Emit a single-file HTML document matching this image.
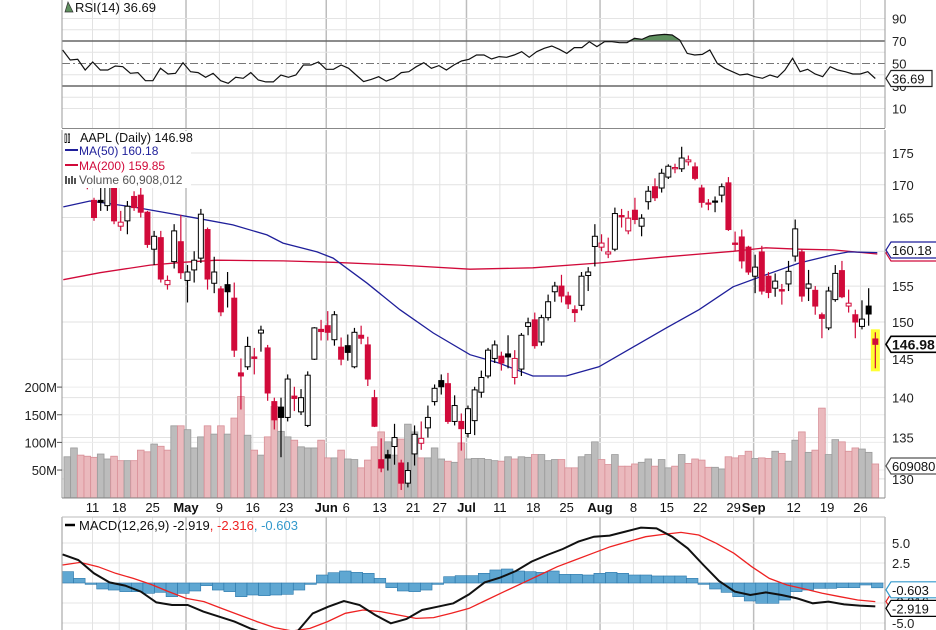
<!DOCTYPE html>
<html><head><meta charset="utf-8">
<style>
html,body{margin:0;padding:0;background:#fff;}
svg{display:block;font-family:"Liberation Sans",Arial,sans-serif;}
</style></head>
<body>
<svg id="chart" width="936" height="630" viewBox="0 0 936 630" xmlns="http://www.w3.org/2000/svg"></svg>
<script>
// ---------- DATA ----------
const opens=[172.5,173,172,171,167.6,167.6,166.8,169.7,163.7,164.5,168.2,168.4,165.8,160.3,162,155.2,158.5,161.4,155.8,157.3,159,163.2,155.4,154.6,155.2,153.3,143.2,144,145.3,148.5,146.5,139.5,138.8,137.5,140.2,138.2,136.5,145,149,149.5,147.6,146.6,146.8,144,148.2,146.9,140,132.3,132.9,133.9,131.9,129.5,133,134.3,136.2,139.5,142.2,141.8,137,137,135.5,137.1,140.7,142.8,145.1,145.4,145.7,142.6,143.7,149.4,150.3,147.3,150.6,154.2,155,153.6,151.7,152.3,156.5,160.7,160.6,159.6,160.3,165.3,163,166.1,163.7,167.4,169.7,169.5,171.2,172.5,172.5,173.6,172.8,169.5,167.2,167.5,168.4,170.3,161.2,162.1,160.6,156.4,159.9,156.4,154.7,154.5,155.3,159.3,159.9,154.7,154.4,151,149.2,153.1,157.2,152.2,151,149.4,152.2,147.7];
const highs=[173,173.5,172.5,171.5,168,169.5,170,170.5,166,167.5,169,170.5,166,163,163,156.5,164,165.4,158,160,166.3,163.5,159.2,155,157,155.5,145.1,148,146.5,149.5,146.9,140,140,143,141.4,141.1,143.4,149.3,150.3,151.5,151.5,147.9,148.3,149.2,149.5,148,141,134.9,133.5,136.7,132.3,132,136.5,137,139,141.7,143,143.2,140.3,138,139,141.4,143.5,146.5,147.5,146,148.2,146.2,148.5,150.6,151.3,151,153.8,155.6,156.6,154.2,152.3,157,157.7,164,162.5,162,166.5,166.3,166,168,165.5,169.8,171,172.5,173.2,173.3,176,174.6,173.5,170,167.8,168.2,170.2,171.2,162.9,163.2,160.8,159.5,160.8,157,156.8,155.3,158.6,164.7,160.3,157.3,155,151.3,154.9,158,158.6,154.5,151.7,153,154.7,148.6];
const lows=[170,170.5,169.8,169.3,164.5,166,166,164,163,162.5,166,165,160.5,158,155.5,154.5,157.5,156,152.7,155.5,158.3,154.5,154,150.8,152,145.3,138.5,143.6,143,146,139.6,136,132.6,137,138.3,137.8,136.3,144.9,147.5,147.5,146.8,144.2,144.8,143.8,147,141.5,136.3,130.8,131,131.7,128.7,129,131.6,133.5,135,139,140.4,136.7,136.5,133.4,135,135.3,140,142.5,144.5,143.5,143.8,141.7,142.8,148.2,146.4,146.8,150.2,152.8,152.7,151.8,150,151.6,154.3,157.8,160,159,160,163.5,162.5,164,162.2,166.2,167.5,168.8,170.9,171.8,172,173,170.7,166.5,166.1,165.8,167.3,163,160,157.5,156.6,154,153.8,153.3,153.5,152.4,154.3,158.5,152.8,152.9,151,147.8,148.9,152.8,153.3,151.3,147.8,149,149.5,143.8];
const closes=[171,171.5,171,170,165,167.3,169.6,164.5,164.3,166.7,166.5,165.8,161,162.2,156,155.8,163,156.9,157,158.7,165.5,156,157,151.4,154.2,146.2,142.8,146.7,145.1,148.9,140.6,137.2,137.5,142.4,139.9,140,142.9,149.2,148.7,148.6,151,145,145.9,148.6,147.8,142.4,136.4,131.3,132.5,135,129.5,131,135.4,134.9,137.5,141.2,141.4,137,139,136.1,138.6,141,142.6,146.2,146.9,144.5,145.3,145.1,148.2,149.9,146.8,150.6,152.8,155,153.6,152.5,151.3,156.4,157,162.2,161.2,159.9,165.6,165.1,164.9,164.7,164.9,169,168,171.8,172.9,172.7,174.2,173.9,171,167.3,167.1,167.4,169.7,163.2,161,158.6,157,157.7,154.3,154.1,155.7,154.3,157.1,163.3,153.6,155.3,152.2,150.5,154.3,156.8,153.5,152.6,150,150.4,151.1,146.98];
const volumesM=[74,90,77,75,73,79,70,75,67,67,67,86,83,97,93,86,130,130,123,90,110,130,115,130,115,144,183,113,86,77,110,165,120,110,104,92,90,90,104,72,72,86,70,69,54,68,92,119,101,77,106,133,119,72,72,90,70,66,64,99,70,71,71,69,67,66,74,70,74,73,78,78,67,69,69,54,54,74,78,101,69,60,78,57,57,61,64,70,57,69,54,57,78,62,70,68,55,55,52,74,72,76,84,71,72,71,84,80,66,104,119,82,86,162,78,105,101,84,90,88,82,61];
const ma50Idx=[-0.6,3.4,9.8,14.9,19.9,24.8,29.9,32.3,37.4,39.8,44.9,49.8,54.8,60.3,64.6,69.7,74.7,79.6,84.7,89.7,94.6,99.7,104.6,109.6,114.7,117,121.3];
const ma50Val=[166.6,167.5,166.6,165.7,164.8,163.9,162.4,161.2,159.9,159,155.4,151.7,148.5,145.6,144.5,142.8,142.8,144,146.6,149.2,151.7,154.9,156.6,158.3,159.5,159.9,159.8];
const ma200Idx=[-0.6,4.9,12.4,17.3,22.4,32.3,39.8,49.8,60.3,69.7,79.6,89.7,99.7,104.6,109.6,114.7,121.3];
const ma200Val=[155.9,156.9,158,158.4,158.7,158.6,158.4,158,157.4,157.6,158.3,159.2,160,160.5,160.3,160.2,159.6];
const rsiVals=[62,53.1,53.7,44.2,51.3,44.2,44.2,47.8,47.2,41.3,41.9,34.7,34.7,45.7,40.7,41.3,50.7,42.7,41.9,37.7,41.3,34.7,32.4,37.7,36.8,41.9,35.3,33.6,33.6,39.8,37.7,39.8,48.7,48.7,51.3,44.8,44.8,48.7,45.7,39.8,33.9,35.9,38.3,34.4,36.8,41.9,42.7,47.2,50.7,45.7,48.1,44.2,48.7,52.2,53.7,57.6,57.6,54,56.1,55.5,57.6,60.5,55.5,60.5,63.5,65.6,62.6,59,64.1,64.1,69.4,65,69.4,69.4,68.5,68.5,72.4,71.5,74.4,75.3,75.9,75.3,70.9,59,57.6,58.1,62,50.1,45.7,42.7,39.8,40.7,38.3,36.8,39.8,37.7,44.2,54.6,42.7,44.8,40.7,38.3,47.2,44.2,42.7,40.7,40.7,42.7,36.7];
const macdVals=[3.58,2.88,1.21,0.08,-0.33,-1.08,-2.42,-2.75,-2.75,-3.58,-4.2,-4.83,-5.67,-6.3,-6.5,-6.1,-3.8,-2.96,-2.25,-2.75,-4,-5.04,-4.5,-3.38,-2.96,-2.54,-1.42,0.08,0.67,1.5,2.67,3.5,4.25,5.17,5.79,5.92,6.42,6.92,6.83,5.79,4.33,2.25,0.25,-1.08,-1.5,-1.17,-1.5,-1.92,-2.54,-2.33,-2.67,-2.83,-2.92];
const signalVals=[2.25,2.58,2.04,1.21,0.58,-0.17,-1.08,-1.92,-2.33,-3.17,-4,-4.83,-5.58,-6,-5.67,-4.83,-3.79,-3.38,-3.58,-4,-4.42,-4.33,-3.79,-3.17,-2.13,-1.08,-0.04,1,2.04,2.88,3.71,4.54,5.17,5.79,6.08,6.33,6,4.96,3.71,2.04,0.58,-0.25,-0.75,-1.29,-1.71,-2.13,-2.32];
const histVals=[1.42,0.58,-0.17,-0.75,-0.88,-1.08,-1.08,-1.29,-1.17,-1.71,-1.29,-1,-0.33,-0.88,-1.08,-1.71,-1.5,-1.58,-1.5,-1.42,-0.88,-0.17,1,1.29,1.5,1.33,1.21,0.58,-0.58,-1,-1.08,-0.88,-0.17,0.79,0.92,0.92,1.21,1.63,1.75,1.5,1.42,1.33,1.5,1.08,1.08,1,1.21,1.33,1.21,1,1,0.88,0.88,0.88,0.58,-0.17,-0.75,-1.17,-1.71,-2.25,-2.54,-2.54,-2.13,-1.08,-0.88,-0.67,-0.67,-0.58,-0.58,-0.25,-0.6];
const tickIdx=[4,8,13,18,23,28,33,39,42,47,52,56,60,65,70,75,80,85,90,95,100,103,109,114,119];
const tickLabels=["11","18","25","May","9","16","23","Jun","6","13","21","27","Jul","11","18","25","Aug","8","15","22","29","Sep","12","19","26"];
const priceTicks=[130,135,140,145,150,155,160,165,170,175];
const volTicks=[50,100,150,200];
const rsiTicks=[10,30,50,70,90];
const macdTicks=[-5,-2.5,0,2.5,5];

// ---------- AXES ----------
const X0=67.3, DX=6.678, L=62, R=885;
const xI=i=>X0+DX*i;
const yP=p=>153+1096.5*Math.log(175/p);
const yV=m=>497.7-0.553*m;
const yR=v=>41+(70-v)*1.125;
const yM=v=>583-8*v;
const RED="#d10a3a", NS="http://www.w3.org/2000/svg";
const svg=document.getElementById('chart');
function mk(tag,attrs,parent){const e=document.createElementNS(NS,tag);for(const k in attrs)e.setAttribute(k,attrs[k]);(parent||svg).appendChild(e);return e;}
function txt(s,x,y,attrs,parent){const t=mk('text',Object.assign({x:x,y:y,'font-size':12,fill:'#222'},attrs||{}),parent);t.textContent=s;return t;}

const defs=mk('defs',{});
const cpM=mk('clipPath',{id:'cm'},defs);mk('rect',{x:L,y:130,width:R-L,height:368},cpM);
const cpR=mk('clipPath',{id:'cr'},defs);mk('rect',{x:L,y:0,width:R-L,height:128},cpR);
const cpD=mk('clipPath',{id:'cd'},defs);mk('rect',{x:L,y:517,width:R-L,height:113},cpD);

// ---------- GRIDS ----------
const grid=mk('g',{});


tickIdx.forEach((ti,k)=>{
  const x=xI(ti)-1.5, strong=/[A-Za-z]/.test(tickLabels[k]);
  [[0,128],[130,498],[517,630]].forEach(([a,b])=>mk('line',{x1:x,x2:x,y1:a,y2:b,stroke:strong?'#bdbdbd':'#e2e2e2','stroke-width':strong?1.5:1},grid));
});
for(let v=10;v<=90;v+=10){ if(v===70||v===30||v===50)continue; mk('line',{x1:L,x2:R,y1:yR(v),y2:yR(v),stroke:'#e4e4e4'},grid);}
priceTicks.forEach(p=>mk('line',{x1:L,x2:R,y1:yP(p),y2:yP(p),stroke:'#e2e2e2'},grid));
volTicks.forEach(m=>mk('line',{x1:L,x2:R,y1:yV(m),y2:yV(m),stroke:'#ececec'},grid));
macdTicks.forEach(v=>mk('line',{x1:L,x2:R,y1:yM(v),y2:yM(v),stroke:'#e4e4e4'},grid));

// ---------- RSI ----------
const rsiG=mk('g',{'clip-path':'url(#cr)'});


const rsiX=k=>xI(-0.7+k*(121.7/(rsiVals.length-1)));
let fillPts=[];
rsiVals.forEach((v,k)=>{fillPts.push([rsiX(k),yR(Math.max(v,70))]);});
let fp='M'+rsiX(0)+','+yR(70)+fillPts.map(p=>' L'+p[0].toFixed(1)+','+p[1].toFixed(1)).join('')+' L'+rsiX(rsiVals.length-1)+','+yR(70)+'Z';
const rf=mk('path',{d:fp,fill:'#5e8f5e',stroke:'none'},rsiG);


mk('line',{x1:L,x2:R,y1:yR(70),y2:yR(70),stroke:'#666','stroke-width':1.5},rsiG);
mk('line',{x1:L,x2:R,y1:yR(30),y2:yR(30),stroke:'#666','stroke-width':1.5},rsiG);
mk('line',{x1:L,x2:R,y1:yR(50),y2:yR(50),stroke:'#777','stroke-dasharray':'8,3,2,3'},rsiG);
const rl=mk('polyline',{points:rsiVals.map((v,k)=>rsiX(k).toFixed(1)+','+yR(v).toFixed(1)).join(' '),fill:'none',stroke:'#111','stroke-width':1.2},rsiG);



// ---------- VOLUME ----------
const volG=mk('g',{'clip-path':'url(#cm)'});


volumesM.forEach((m,i)=>{
  const up=i===0?true:closes[i]>=closes[i-1];
  const b=mk('rect',{x:xI(i)-DX/2,y:yV(m),width:DX,height:497.7-yV(m),fill:up?'#bcbcbc':'#eab9bd',stroke:up?'#9a9a9a':'#d88f97','stroke-width':0.8},volG);
  
  
});

// ---------- MOVING AVERAGES ----------
const maG=mk('g',{'clip-path':'url(#cm)'});
const m200=mk('polyline',{points:ma200Idx.map((ix,k)=>xI(ix).toFixed(1)+','+yP(ma200Val[k]).toFixed(1)).join(' '),fill:'none',stroke:RED,'stroke-width':1.3},maG);


const m50=mk('polyline',{points:ma50Idx.map((ix,k)=>xI(ix).toFixed(1)+','+yP(ma50Val[k]).toFixed(1)).join(' '),fill:'none',stroke:'#1f1f9a','stroke-width':1.3},maG);



const last=closes.length-1;
const hl=mk('rect',{x:xI(last)-4.5,y:yP(highs[last])-3,width:9,height:yP(lows[last])-yP(highs[last])+6,fill:'#ffff33'});



// ---------- CANDLES ----------
const cG=mk('g',{'clip-path':'url(#cm)'});


closes.forEach((c,i)=>{
  const o=opens[i], up=i===0?true:c>=closes[i-1], col=up?'#000':RED, filled=c<o;
  const x=xI(i);
  const w=mk('line',{x1:x,x2:x,y1:yP(highs[i]),y2:yP(lows[i]),stroke:col,'stroke-width':1.2},cG);
  
  
  const top=yP(Math.max(o,c)), bot=yP(Math.min(o,c));
  const b=mk('rect',{x:x-2.5,y:top,width:5,height:Math.max(1.2,bot-top),fill:filled?col:'#fff',stroke:col,'stroke-width':1},cG);
  
  
});

// ---------- MACD ----------
const mG=mk('g',{'clip-path':'url(#cd)'});


const hw=(R-L-2)/histVals.length;
histVals.forEach((v,k)=>{
  const x=L+k*hw, y0=yM(0), y1=yM(v);
  const b=mk('rect',{x:x,y:Math.min(y0,y1),width:hw,height:Math.abs(y1-y0),fill:'#5fa7d2',stroke:'#2b77aa','stroke-width':0.6},mG);
  
  
});
const mX=(k,n)=>xI(-0.7+k*(121.7/(n-1)));
const sl=mk('polyline',{points:signalVals.map((v,k)=>mX(k,signalVals.length).toFixed(1)+','+yM(v).toFixed(1)).join(' '),fill:'none',stroke:'#ee2222','stroke-width':1.3},mG);


const ml=mk('polyline',{points:macdVals.map((v,k)=>mX(k,macdVals.length).toFixed(1)+','+yM(v).toFixed(1)).join(' '),fill:'none',stroke:'#111','stroke-width':2},mG);



[[0,128],[130,498],[517,630]].forEach(([a,b])=>{
  mk('line',{x1:L,x2:L,y1:a,y2:b,stroke:'#999'});
  mk('line',{x1:R,x2:R,y1:a,y2:b,stroke:'#999'});
});
mk('line',{x1:L,x2:R,y1:128.5,y2:128.5,stroke:'#888'});
mk('line',{x1:L,x2:R,y1:498,y2:498,stroke:'#888'});
mk('line',{x1:L,x2:R,y1:517,y2:517,stroke:'#bbb'});

// ---------- AXIS LABELS ----------
const axG=mk('g',{});


rsiTicks.forEach(v=>{const t=txt(String(v),892,yR(v)+5,{'font-size':13},axG);});
priceTicks.forEach(p=>{if(p===160)return;const t=txt(String(p),892,yP(p)+5,{'font-size':13},axG);});
volTicks.forEach(m=>{const t=txt(m+'M',57,yV(m)+5,{'font-size':13,'text-anchor':'end'},axG);mk('line',{x1:57,x2:62,y1:yV(m),y2:yV(m),stroke:'#555'},axG);});
[[5,'5.0'],[2.5,'2.5'],[-5,'-5.0']].forEach(([v,s])=>{const t=txt(s,892,yM(v)+5,{'font-size':13},axG);});
tickIdx.forEach((ti,k)=>{
  const s=tickLabels[k], bold=/[A-Za-z]/.test(s);
  const t=txt(s,xI(ti)-1.5,512,{'font-size':13,'text-anchor':'middle','font-weight':bold?'bold':'normal',fill:'#111'},axG);
  
  
});

// ---------- LEGENDS ----------
const lg=mk('g',{});


mk('rect',{x:63,y:131,width:128,height:57,fill:'#fff'},lg);
txt('\u2AFF\u2AFF',64,142,{'font-size':10,fill:'#000'},lg);
txt('AAPL (Daily) 146.98',80,142,{'font-size':12.5,fill:'#111'},lg);
mk('line',{x1:65,x2:78,y1:150,y2:150,stroke:'#1f1f9a','stroke-width':2},lg);
txt('MA(50) 160.18',79,155,{'font-size':12,fill:'#1f1f9a'},lg);
mk('line',{x1:65,x2:78,y1:165,y2:165,stroke:RED,'stroke-width':2},lg);
txt('MA(200) 159.85',79,170,{'font-size':12,fill:RED},lg);
[0,3,6,9].forEach((d,k)=>mk('rect',{x:65+d,y:176+(k%2?2:0),width:2,height:8-(k%2?2:0),fill:'#555'},lg));
txt('Volume 60,908,012',79,184,{'font-size':12,fill:'#555'},lg);

const rg=mk('g',{});


mk('path',{d:'M65,12 L68,2 L71,8 L73,12 Z',fill:'#5e8f5e',stroke:'#333','stroke-width':0.7},rg);
txt('RSI(14) 36.69',75,12,{'font-size':13,fill:'#111'},rg);

const mg=mk('g',{});


mk('line',{x1:65,x2:75,y1:525,y2:525,stroke:'#000','stroke-width':2.5},mg);
const mt=mk('text',{x:79,y:530,'font-size':13,fill:'#111'},mg);
mt.innerHTML='MACD(12,26,9) -2.919<tspan fill="#ee2222">, -2.316</tspan><tspan fill="#3399cc">, -0.603</tspan>';

// ---------- VALUE TAGS ----------
function tag(name,s,y,color,bold,w){
  const g=mk('g',{});
  
  
  const x=886;
  mk('path',{d:`M${x},${y} L${x+5},${y-8} L${x+w},${y-8} L${x+w},${y+8} L${x+5},${y+8} Z`,fill:'#fff',stroke:color,'stroke-width':bold?1.6:1.2},g);
  txt(s,x+6,y+5,{'font-size':bold?14:13,'font-weight':bold?'bold':'normal',fill:'#111'},g);
}
tag('rsi-value-tag','36.69',yR(36.69),'#222',false,46);
tag('ma200-value-tag','159.85',yP(160.18)+3,RED,false,52);
tag('ma50-value-tag','160.18',yP(160.18),'#1f1f9a',false,52);
tag('price-value-tag','146.98',yP(146.98),'#000',true,52);
tag('volume-value-tag','60908012',yV(61)+2,'#555',false,60);
tag('macd-signal-tag','-2.316',yM(-2.316),'#ee2222',false,52);
tag('macd-hist-tag','-0.603',yM(-0.603)+2,'#3399cc',false,52);
tag('macd-value-tag','-2.919',yM(-2.919)+2,'#000',false,52);
</script>
</body></html>
